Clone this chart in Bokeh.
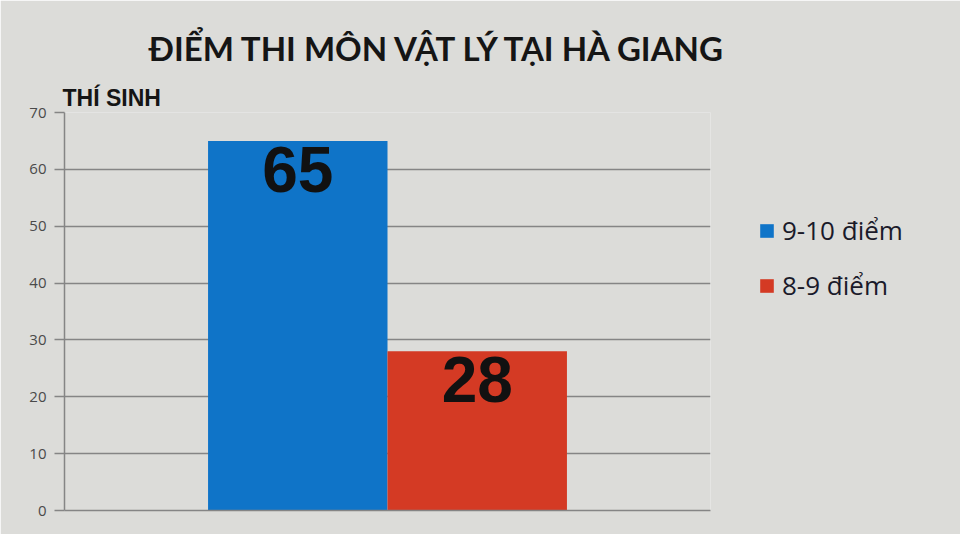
from bokeh.plotting import figure
from bokeh.models import (ColumnDataSource, FactorRange, LabelSet, Legend,
                          LegendItem, Title)
from bokeh.core.properties import value
from bokeh.embed import file_html
from bokeh.resources import INLINE

# ---- data ----
categories = ["9-10 điểm", "8-9 điểm"]
counts = [65, 28]
colors = ["#0f74c8", "#d43a24"]
value_labels = ["65", "28"]
y_ticks = [0, 10, 20, 30, 40, 50, 60, 70]
chart_title = "ĐIỂM THI MÔN VẬT LÝ TẠI HÀ GIANG"
y_title = "THÍ SINH"

BG = "#dcdcd9"
GRID = "#858585"

src = ColumnDataSource(dict(cat=categories, n=counts, color=colors, lab=value_labels))

p = figure(frame_width=646, frame_height=398, output_backend="svg", toolbar_location=None,
           x_range=FactorRange(*categories, range_padding=0.8,
                               range_padding_units="absolute"),
           y_range=(0, 70), title=None,
           background_fill_color=BG, border_fill_color=BG,
           min_border_left=64, min_border_top=112, min_border_bottom=24,
           min_border_right=10)
p.outline_line_color = None

# y-axis title (nearest the frame), then main title
p.add_layout(Title(text=y_title, align="left", text_font="Liberation Sans",
                   text_font_size="23px", text_font_style="bold", text_color="#151515",
                   standoff=4, offset=-2), "above")
p.add_layout(Title(text=chart_title, align="left", text_font="Lato",
                   text_font_size="33px", text_font_style="bold", text_color="#151515",
                   standoff=26, offset=84), "above")

r = p.vbar(x="cat", top="n", width=1.0, color="color", line_color=None, source=src)

# value labels
p.add_layout(LabelSet(x="cat", y="n", text="lab", source=src, y_offset=-6,
                      text_align="center", text_baseline="top",
                      text_font=value("Liberation Sans"),
                      text_font_size="64px", text_font_style="bold",
                      text_color="#111111"))

# axes
p.yaxis.ticker = y_ticks
p.yaxis.major_tick_out = 10
p.yaxis.major_tick_in = 0
p.yaxis.minor_tick_line_color = None
p.yaxis.axis_line_color = GRID
p.yaxis.axis_line_width = 1.5
p.yaxis.major_tick_line_color = GRID
p.yaxis.major_tick_line_width = 1.5
p.yaxis.major_label_text_font = "Open Sans"
p.yaxis.major_label_text_font_size = "15px"
p.yaxis.major_label_text_color = "#4a4a4a"
p.yaxis.major_label_standoff = 8

p.xaxis.major_label_text_color = None
p.xaxis.major_tick_line_color = None
p.xaxis.minor_tick_line_color = None
p.xaxis.axis_line_color = GRID
p.xaxis.axis_line_width = 1.5
p.xaxis.group_text_color = None

p.xgrid.grid_line_color = None
p.ygrid.grid_line_color = GRID
p.ygrid.grid_line_width = 1.5

legend = Legend(items=[LegendItem(label=categories[i], renderers=[r], index=i)
                       for i in range(len(categories))],
                location=(48, 207), background_fill_alpha=0, border_line_color=None,
                label_text_font="Open Sans", label_text_font_size="26px",
                label_text_color="#1a1a2a", glyph_width=17, glyph_height=17,
                spacing=19, label_standoff=7, padding=10, margin=0)
p.add_layout(legend, "right")

open("out.html", "w").write(file_html(p, INLINE))
